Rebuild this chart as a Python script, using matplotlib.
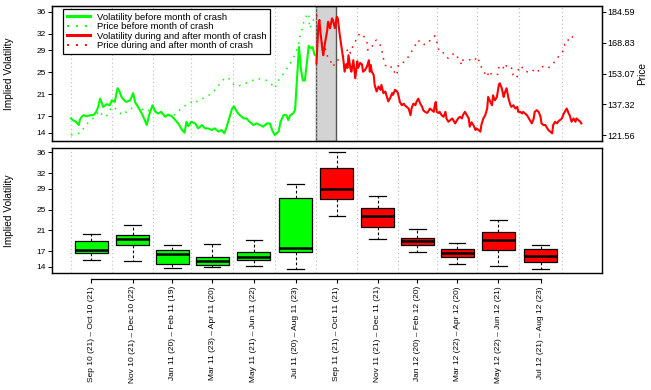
import numpy as np
import matplotlib
matplotlib.use("Agg")
import matplotlib.pyplot as plt
from matplotlib.lines import Line2D

plt.rcParams['font.family'] = ['Liberation Sans', 'DejaVu Sans']

# ---------------- data ----------------
months = ["Sep 10", "Oct 10", "Nov 10", "Dec 10", "Jan 11", "Feb 11", "Mar 11", "Apr 11",
          "May 11", "Jun 11", "Jul 11", "Aug 11", "Sep 11", "Oct 11", "Nov 11", "Dec 11",
          "Jan 12", "Feb 12", "Mar 12", "Apr 12", "May 12", "Jun 12", "Jul 12", "Aug 12"]
trading_days = [21, 21, 21, 22, 20, 19, 23, 20, 21, 22, 20, 23,
                 21, 21, 21, 21, 20, 20, 22, 20, 22, 21, 21, 23]
crash_month = "Sep 11"

vol_ticks = [14, 17, 21, 25, 29, 32, 36]
price_ticks = [121.56, 137.32, 153.07, 168.83, 184.59]

# volatility before crash month (trading-day index, value)
green_days = [0, 2, 5, 8, 9, 11, 13, 16, 20, 23, 26, 28, 30, 32, 33, 37, 40, 42, 45, 48, 50, 52, 55, 57,
              61, 64, 66, 69, 73, 76, 78, 81, 84, 87, 90, 93, 97, 100, 104, 107, 111, 114, 117, 119,
              121, 124, 128, 131, 135, 138, 141, 145, 148, 152, 155, 158, 160, 163, 166, 168, 171, 174,
              178, 181, 184, 188, 191, 195, 198, 202, 205, 208, 210, 214, 216, 219, 222, 224, 226, 229,
              231, 233, 235, 237, 239, 241, 243, 245, 247, 249, 251, 253]
green_vol = [16.6, 16.3, 16.0, 15.4, 16.3, 16.9, 17.2, 17.0, 17.2, 17.2, 17.8, 18.7, 20.2, 19.3, 18.7,
             19.2, 19.0, 19.9, 19.6, 22.1, 21.5, 20.5, 19.9, 19.6, 19.9, 21.2, 19.6, 18.7, 17.5, 16.3,
             15.4, 17.5, 19.0, 17.8, 17.5, 17.8, 16.9, 17.3, 17.0, 16.4, 15.6, 14.6, 14.0, 16.0, 15.2,
             16.0, 15.7, 14.8, 15.4, 14.8, 14.8, 14.5, 14.8, 14.2, 14.5, 13.9, 14.8, 16.6, 18.4, 18.8,
             17.8, 17.2, 16.6, 16.6, 16.0, 15.4, 15.7, 15.4, 15.1, 15.7, 15.7, 14.2, 13.6, 14.2, 16.0,
             17.2, 17.2, 16.3, 17.2, 17.5, 18.2, 24.0, 29.6, 25.5, 23.5, 23.5, 26.5, 29.8, 29.4, 29.6,
             28.2, 28.0]

# volatility during and after crash month
red_days = [253, 254, 255, 256, 257, 259, 260, 262, 264, 265, 267, 269, 270, 272, 274, 275, 277, 279, 281,
            282, 284, 285, 286, 288, 289, 291, 293, 295, 296, 298, 300, 301, 303, 305, 307, 308, 309, 310,
            312, 313, 315, 317, 319, 320, 322, 324, 326, 327, 329, 331, 332, 334, 336, 337, 339, 341, 343,
            344, 346, 348, 350, 351, 353, 355, 356, 358, 360, 362, 363, 365, 367, 368, 370, 372, 374, 375,
            376, 377, 379, 380, 382, 384, 386, 387, 389, 391, 393, 394, 396, 398, 399, 401, 403, 404, 406,
            408, 410, 411, 413, 415, 417, 418, 420, 422, 423, 425, 427, 429, 430, 432, 434, 435, 437, 439,
            441, 442, 444, 446, 447, 449, 451, 453, 454, 456, 458, 460, 461, 463, 465, 466, 468, 470, 472,
            473, 475, 477, 478, 480, 482, 484, 485, 487, 489, 490, 492, 494, 496, 497, 499, 501, 502, 504,
            506, 508, 509, 511, 513, 514, 516, 518, 520, 521, 523, 525, 526]
red_vol = [26.6, 30.0, 33.6, 34.5, 32.5, 29.3, 28.1, 30.5, 32.5, 34.2, 33.0, 34.8, 34.5, 33.0, 35.1, 34.8,
           31.8, 29.3, 26.9, 25.1, 26.5, 25.8, 28.1, 25.7, 25.1, 27.2, 23.9, 27.0, 25.8, 26.7, 26.4, 25.1,
           25.4, 26.0, 27.2, 25.1, 26.3, 25.1, 24.5, 22.7, 21.5, 22.4, 21.8, 22.7, 21.2, 21.5, 20.3, 19.7,
           20.3, 21.2, 20.9, 21.8, 21.5, 21.2, 19.6, 19.0, 19.3, 19.0, 18.7, 18.4, 17.2, 18.4, 19.3, 19.0,
           19.6, 20.2, 19.3, 18.7, 18.1, 17.8, 17.6, 17.8, 18.4, 18.1, 17.8, 19.0, 19.6, 17.8, 17.6, 17.8,
           17.2, 16.9, 17.8, 16.6, 16.0, 16.3, 16.6, 16.3, 15.7, 16.3, 16.6, 16.9, 16.6, 17.2, 17.8, 17.2,
           16.6, 15.1, 15.9, 15.3, 14.5, 14.8, 14.5, 14.2, 15.4, 16.6, 17.2, 18.4, 20.5, 19.7, 19.0, 20.8,
           19.9, 20.5, 22.7, 23.0, 22.1, 20.5, 21.2, 22.1, 20.2, 19.0, 18.7, 19.0, 18.4, 18.7, 17.8, 17.8,
           17.5, 17.8, 17.5, 17.2, 16.6, 16.3, 15.7, 16.6, 17.8, 18.1, 17.8, 16.9, 15.7, 15.4, 15.4, 15.1,
           14.5, 14.2, 13.9, 15.4, 16.0, 15.7, 16.0, 16.3, 16.6, 17.5, 17.8, 18.4, 17.5, 17.2, 16.0, 16.6,
           16.0, 16.6, 16.3, 16.0, 15.7]

# price before crash month
green_price_days = [0, 5, 9, 13, 17, 21, 25, 29, 33, 37, 40, 44, 47, 51, 54, 57, 61, 64, 68, 71, 75, 78, 81,
                    85, 88, 92, 95, 99, 102, 106, 109, 112, 116, 119, 123, 126, 130, 133, 136, 140, 145,
                    150, 155, 160, 164, 168, 172, 177, 182, 187, 192, 197, 202, 206, 210, 213, 217, 220,
                    224, 228, 231, 234, 236, 238, 240, 243, 245, 246, 248, 250, 252]
green_price = [121.6, 122.4, 122.4, 125.0, 127.5, 129.3, 131.3, 134.0, 131.0, 131.5, 134.4, 136.1, 134.4,
               132.7, 131.8, 133.5, 134.4, 136.1, 137.0, 135.2, 134.4, 133.5, 134.4, 134.5, 133.7, 132.5,
               132.7, 131.8, 131.0, 131.8, 132.7, 134.4, 136.1, 137.0, 137.8, 139.5, 138.7, 139.5, 140.4,
               141.2, 143.0, 145.5, 149.0, 151.2, 150.0, 147.2, 146.5, 147.5, 148.5, 149.5, 150.5, 150.0,
               149.5, 148.0, 145.5, 149.0, 151.4, 154.0, 156.5, 160.0, 163.0, 167.0, 172.0, 175.4, 179.6,
               183.1, 183.9, 176.2, 178.0, 180.5, 182.0]

# price during and after crash month
red_price_days = [253, 255, 257, 258, 262, 265, 269, 270, 274, 277, 282, 286, 288, 291, 293, 295, 298, 301,
                  303, 305, 306, 310, 312, 315, 318, 320, 322, 324, 327, 331, 334, 336, 337, 341, 344, 348,
                  351, 355, 358, 361, 365, 368, 372, 375, 377, 379, 382, 386, 389, 392, 396, 399, 403, 404,
                  408, 410, 415, 419, 422, 425, 429, 431, 434, 437, 440, 441, 444, 447, 449, 454, 455, 458,
                  460, 461, 464, 467, 470, 475, 478, 482, 484, 487, 491, 496, 501, 504, 508, 509, 512, 513,
                  516, 520, 521]
red_price = [183.0, 180.5, 177.1, 169.4, 166.0, 160.9, 158.3, 156.6, 160.0, 160.0, 162.6, 166.0, 163.5,
             167.7, 169.4, 171.9, 173.7, 172.8, 171.1, 169.4, 165.1, 166.0, 169.4, 170.2, 168.5, 166.0,
             160.9, 157.4, 155.7, 156.6, 153.2, 152.1, 157.0, 157.4, 160.0, 161.7, 164.3, 167.7, 170.2,
             168.0, 168.0, 168.5, 171.6, 172.3, 169.4, 165.1, 165.1, 161.7, 160.9, 162.6, 163.5, 160.9,
             157.4, 160.0, 160.0, 160.3, 159.4, 161.7, 157.4, 154.4, 151.4, 154.4, 152.3, 152.3, 152.7,
             156.1, 157.4, 154.9, 157.4, 156.1, 152.5, 153.3, 151.4, 154.9, 157.1, 154.4, 154.0, 153.7,
             155.7, 154.4, 156.6, 156.6, 155.7, 157.4, 160.9, 162.6, 165.1, 168.0, 168.5, 171.9, 171.9,
             171.4, 172.8]

# box statistics for each two-month period
box_whislo = [15.3, 15.2, 13.8, 13.9, 14.1, 13.5, 23.8, 19.3, 16.9, 14.5, 14.1, 13.6]
box_q1 = [16.6, 18.2, 14.6, 14.4, 15.3, 16.8, 27.0, 21.6, 18.1, 15.8, 17.3, 15.0]
box_med = [17.3, 19.4, 16.4, 15.2, 15.9, 17.7, 28.9, 23.7, 19.0, 16.6, 19.1, 16.1]
box_q3 = [18.9, 20.2, 17.3, 15.8, 16.8, 27.2, 33.0, 25.4, 19.5, 17.5, 20.6, 17.5]
box_whishi = [20.4, 22.1, 18.1, 18.4, 19.1, 30.0, 36.0, 27.7, 21.3, 18.6, 23.0, 18.2]

# ---------------- derived ----------------
GREEN = '#00FF00'
RED = '#FF0000'
period_len = [trading_days[i] + trading_days[i + 1] for i in range(0, len(trading_days), 2)]
bounds = np.concatenate([[0], np.cumsum(period_len)])
centers = (bounds[:-1] + bounds[1:]) / 2.0
labels = [f"{months[i]} ({trading_days[i]}) \u2013 {months[i+1]} ({trading_days[i+1]})"
          for i in range(0, len(months), 2)]
month_start = np.concatenate([[0], np.cumsum(trading_days)])
ci = months.index(crash_month)
crash_start, crash_end = month_start[ci], month_start[ci + 1] - 1
crash_period = ci // 2

xlim = (-19.6, 547.4)

fig = plt.figure(figsize=(6.51, 3.90), dpi=100)
ax = fig.add_axes([0.0799, 0.6392, 0.8449, 0.3454])
axb = fig.add_axes([0.0799, 0.300, 0.8449, 0.3205])

# ---- top panel ----
ax.set_xlim(*xlim)
ax.set_ylim(12.55, 37.05)
ax.set_xticks(bounds, minor=True)
ax.set_xticks([])
ax.grid(which='minor', axis='x', linestyle=(0, (1, 2.5)), color='#bbbbbb', linewidth=0.8, zorder=0)
ax.tick_params(axis='x', which='both', length=0, labelbottom=False)
ax.axvspan(crash_start, crash_end, facecolor='#d3d3d3', edgecolor='#555555', linewidth=1.0, zorder=1)
ax.plot(green_days, green_vol, color=GREEN, lw=1.5, zorder=3)
ax.plot(red_days, red_vol, color=RED, lw=1.5, zorder=3)
ax.set_yticks(vol_ticks)
ax.tick_params(axis='y', length=3, width=0.7, pad=1.5, labelsize=6)
ax.set_ylabel("Implied Volatility", fontsize=7.3)
ax.yaxis.set_label_coords(-0.069, 0.5)
for s in ax.spines.values():
    s.set_linewidth(1.0)

axp = ax.twinx()
axp.set_xlim(*xlim)
axp.set_ylim(118.64, 187.66)
dot = (0, (1.0, 3.6))
axp.plot(green_price_days, green_price, color=GREEN, lw=1.1, linestyle=dot, zorder=2)
axp.plot(red_price_days, red_price, color=RED, lw=1.1, linestyle=dot, zorder=2)
axp.set_yticks(price_ticks)
axp.set_yticklabels([f"{p:.2f}" for p in price_ticks])
axp.tick_params(axis='y', length=3, width=0.7, pad=1.0, labelsize=6.5)
axp.set_ylabel("Price", fontsize=7.3)
axp.yaxis.set_label_coords(1.064, 0.5)

handles = [Line2D([], [], color=GREEN, lw=2.2),
           Line2D([], [], color=GREEN, lw=1.4, linestyle=(0, (1, 3.6))),
           Line2D([], [], color=RED, lw=2.2),
           Line2D([], [], color=RED, lw=1.4, linestyle=(0, (1, 3.6)))]
leg_labels = ["Volatility before month of crash", "Price before month of crash",
              "Volatility during and after month of crash", "Price during and after month of crash"]
leg = axp.legend(handles, leg_labels, loc='upper left', bbox_to_anchor=(0.02, 0.978),
                 borderaxespad=0, fontsize=6.8, frameon=True, fancybox=False, framealpha=1,
                 edgecolor='black', handlelength=2.5, handletextpad=0.7, labelspacing=0.05,
                 borderpad=0.4)
leg.get_frame().set_linewidth(0.9)

# ---- bottom panel ----
axb.set_xlim(*xlim)
axb.set_ylim(12.8, 36.85)
axb.set_xticks(bounds, minor=True)
axb.set_xticks([])
axb.grid(which='minor', axis='x', linestyle=(0, (1, 2.5)), color='#bbbbbb', linewidth=0.8, zorder=0)
axb.tick_params(axis='x', which='both', length=0, labelbottom=False)
stats = [dict(med=m, q1=a, q3=b, whislo=lo, whishi=hi, fliers=[])
         for m, a, b, lo, hi in zip(box_med, box_q1, box_q3, box_whislo, box_whishi)]
bp = axb.bxp(stats, positions=centers, widths=34, capwidths=17, patch_artist=True,
             showfliers=False, manage_ticks=False,
             boxprops=dict(edgecolor='black', linewidth=0.9),
             medianprops=dict(color='black', linewidth=1.8),
             whiskerprops=dict(color='black', linewidth=0.8, linestyle=(0, (2.5, 2))),
             capprops=dict(color='black', linewidth=0.9))
for i, patch in enumerate(bp['boxes']):
    patch.set_facecolor(GREEN if i < crash_period else RED)
    patch.set_zorder(2)
axb.set_yticks(vol_ticks)
axb.tick_params(axis='y', length=3, width=0.7, pad=1.5, labelsize=6)
axb.set_ylabel("Implied Volatility", fontsize=7.3)
axb.yaxis.set_label_coords(-0.069, 0.5)
for s in axb.spines.values():
    s.set_linewidth(1.0)

sec = axb.secondary_xaxis('bottom')
sec.set_xticks(centers, labels=labels)
sec.tick_params(axis='x', length=3, width=0.8, pad=2, labelsize=6, labelrotation=90)
for lab in sec.get_xticklabels():
    lab.set_verticalalignment('top')
    lab.set_horizontalalignment('center')
sec.spines['bottom'].set_position(('outward', 4.5))
sec.spines['bottom'].set_bounds(centers[0], centers[-1])
sec.spines['bottom'].set_linewidth(0.9)

fig.savefig("out.png", dpi=100)
